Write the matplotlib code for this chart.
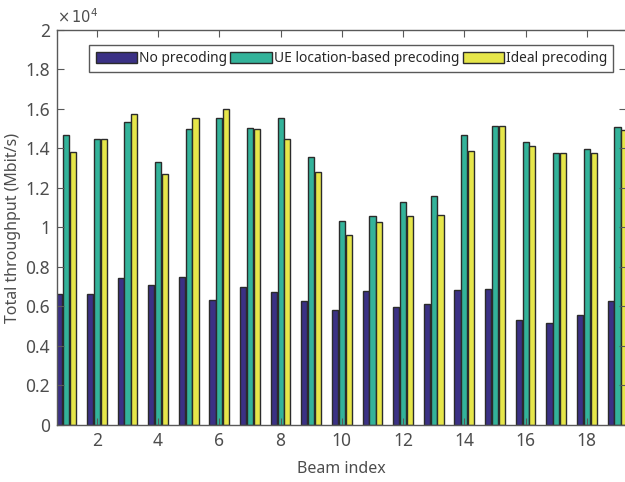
import numpy as np
from matplotlib import pyplot as plt
from matplotlib.ticker import FuncFormatter

plt.rcParams["font.family"] = ["Noto Sans", "DejaVu Sans"]

# throughput per beam (Mbit/s)
beams = np.arange(1, 20)
no_precoding = [6630, 6620, 7430, 7070, 7490, 6310, 6990, 6730, 6300, 5800,
                6800, 5970, 6110, 6820, 6900, 5320, 5180, 5590, 6260]
ue_location = [14700, 14460, 15340, 13320, 14990, 15560, 15040, 15560, 13550, 10350,
               10580, 11310, 11580, 14680, 15120, 14330, 13770, 13970, 15070]
ideal = [13820, 14460, 15750, 12720, 15530, 15980, 14970, 14460, 12790, 9640,
         10260, 10600, 10650, 13890, 15160, 14130, 13790, 13770, 14950]

series = [no_precoding, ue_location, ideal]
labels = ["No precoding", "UE location-based precoding", "Ideal precoding"]
colors = ["#3b3185", "#33b39a", "#e6e64a"]

fig = plt.figure(figsize=(6.25, 4.82), dpi=100)
ax = fig.add_axes([0.0912, 0.1183, 0.911, 0.8195])

width = 0.2
step = 0.222
for k, (vals, lab, col) in enumerate(zip(series, labels, colors)):
    ax.bar(beams + (k - 1) * step, vals, width, color=col, edgecolor="#2b2b2b",
           linewidth=1.0, label=lab)

ax.set_xlim(0.7, 19.29)
ax.set_ylim(0, 20000)
ax.set_xticks(np.arange(2, 19, 2))
ax.set_yticks(np.arange(0, 20001, 2000))
ax.yaxis.set_major_formatter(FuncFormatter(lambda v, p: f"{v / 1e4:g}"))

gray = "#4d4d4d"
for s in ax.spines.values():
    s.set_color("#595959")
    s.set_linewidth(1.0)
ax.tick_params(direction="in", top=True, right=True, length=5, width=0.8,
               colors="#595959", labelcolor=gray, labelsize=12.5, pad=5)

ax.text(0.0, 1.008, r"$\times\,10^4$", transform=ax.transAxes, fontsize=10.5,
        color=gray, ha="left", va="bottom")

ax.set_xlabel("Beam index", fontsize=11.5, color=gray, labelpad=8)
ax.set_ylabel("Total throughput (Mbit/s)", fontsize=11.5, color=gray, labelpad=3)

leg = ax.legend(loc="upper right", bbox_to_anchor=(0.977, 0.962), ncol=3,
                fontsize=9.9, handlelength=3.0, handleheight=0.95,
                handletextpad=0.15, columnspacing=0.25, borderpad=0.45,
                borderaxespad=0.0, fancybox=False, framealpha=1)
leg.get_frame().set_edgecolor("#595959")
leg.get_frame().set_linewidth(1.0)
for t in leg.get_texts():
    t.set_color("#262626")

plt.savefig("out.png", dpi=100)
plt.close()
